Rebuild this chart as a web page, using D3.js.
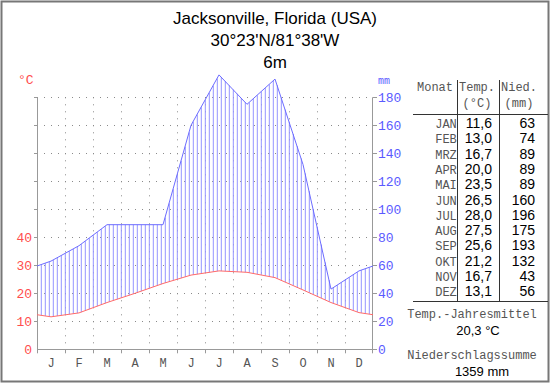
<!DOCTYPE html>
<html>
<head>
<meta charset="utf-8">
<script src="https://cdn.jsdelivr.net/npm/d3@7"></script>
<style>
  body { margin: 0; background: #fff; }
  svg { display: block; }
</style>
</head>
<body>
<div class="graph"></div>
<script>
// Climate data
var months = ["J", "F", "M", "A", "M", "J", "J", "A", "S", "O", "N", "D"];
var monthNames = ["JAN", "FEB", "MRZ", "APR", "MAI", "JUN", "JUL", "AUG", "SEP", "OKT", "NOV", "DEZ"];
var temps = [11.6, 13.0, 16.7, 20.0, 23.5, 26.5, 28.0, 27.5, 25.6, 21.2, 16.7, 13.1];
var precip = [63, 74, 89, 89, 89, 160, 196, 175, 193, 132, 43, 56];
var tempTicks = [0, 10, 20, 30, 40];
var gridSteps = [10, 20, 30, 40, 50, 60, 70, 80, 90];
var precipTicks = [0, 20, 40, 60, 80, 100, 120, 140, 160, 180];
var titleLines = ["Jacksonville, Florida (USA)", "30°23'N/81°38'W", "6m"];
var meanTemp = "20,3 °C";
var totalPrecip = "1359 mm";

// Configuration
var width = 550, height = 384;
var tempColour = "#ff6a6a";
var precipColour = "#6c6cff";
var hatchColour = "#9494ff";
var gridColour = "#8a8a8a";
var mono = "'Liberation Mono', 'DejaVu Sans Mono', monospace";
var sans = "'Liberation Sans', Arial, sans-serif";

var x = d3.scaleLinear().domain([0, 12]).range([37, 373]);
var yT = d3.scaleLinear().domain([0, 90]).range([349.3, 97.3]);
var yP = d3.scaleLinear().domain([0, 180]).range([349.3, 97.3]);

var svg = d3.select('.graph').append("svg")
    .attr("width", width)
    .attr("height", height);

svg.append("rect")
    .attr("x", 1.5).attr("y", 1.5)
    .attr("width", width - 3).attr("height", height - 4)
    .style("fill", "none")
    .style("stroke", "#777")
    .style("stroke-width", 2);

// Title
svg.selectAll(".title")
    .data(titleLines)
    .enter().append("text")
    .attr("x", 275)
    .attr("y", function(d, i) { return 24 + i * 22; })
    .attr("text-anchor", "middle")
    .style("font-family", sans)
    .style("font-size", "17px")
    .style("fill", "#000")
    .text(function(d) { return d; });

// Points: month centres plus edges (mean of Dec and Jan)
var edgeT = (temps[0] + temps[11]) / 2;
var edgeP = (precip[0] + precip[11]) / 2;
var tPts = [[0, edgeT]].concat(temps.map(function(d, i) { return [i + 0.5, d]; }), [[12, edgeT]]);
var pPts = [[0, edgeP]].concat(precip.map(function(d, i) { return [i + 0.5, d]; }), [[12, edgeP]]);

function interp(pts, v) {
    for (var i = 0; i < pts.length - 1; i++) {
        if (v >= pts[i][0] && v <= pts[i + 1][0]) {
            var f = (v - pts[i][0]) / (pts[i + 1][0] - pts[i][0]);
            return pts[i][1] + f * (pts[i + 1][1] - pts[i][1]);
        }
    }
    return pts[pts.length - 1][1];
}

// Grid
var grid = svg.append("g")
    .style("stroke", gridColour)
    .style("stroke-dasharray", "1,6");
grid.selectAll(".hgrid")
    .data(gridSteps)
    .enter().append("line")
    .attr("x1", x(0)).attr("x2", x(12))
    .attr("y1", function(d) { return Math.round(yT(d)) + 0.5; })
    .attr("y2", function(d) { return Math.round(yT(d)) + 0.5; });
grid.selectAll(".vgrid")
    .data(d3.range(1, 12))
    .enter().append("line")
    .attr("x1", function(d) { return Math.round(x(d)) + 0.5; })
    .attr("x2", function(d) { return Math.round(x(d)) + 0.5; })
    .attr("y1", yT(90)).attr("y2", yT(0));

// Hatching (humid period)
var hatchX = d3.range(1, 84).map(function(k) { return k / 7; });
var hatch = svg.append("g").attr("class", "hatch");
hatch.selectAll("line")
    .data(hatchX)
    .enter().append("line")
    .attr("x1", function(d) { return x(d) + 0.3; })
    .attr("x2", function(d) { return x(d) + 0.3; })
    .attr("y1", function(d) { return yT(interp(tPts, d)); })
    .attr("y2", function(d) { return yP(interp(pPts, d)); })
    .style("stroke", hatchColour)
    .style("stroke-width", 1);

// Axes
var axes = svg.append("g").style("stroke", "#999").style("fill", "none");
axes.append("line")
    .attr("x1", 37.5).attr("x2", 37.5)
    .attr("y1", yT(90)).attr("y2", yT(0) + 4);
axes.append("line")
    .attr("x1", 372.5).attr("x2", 372.5)
    .attr("y1", yT(90)).attr("y2", yT(0) + 4);
axes.append("line")
    .attr("x1", 37).attr("x2", 373)
    .attr("y1", Math.round(yT(0)) + 0.5).attr("y2", Math.round(yT(0)) + 0.5);
axes.selectAll(".mtick")
    .data(d3.range(1, 12))
    .enter().append("line")
    .attr("x1", function(d) { return Math.round(x(d)) + 0.5; })
    .attr("x2", function(d) { return Math.round(x(d)) + 0.5; })
    .attr("y1", yT(0)).attr("y2", yT(0) + 4);
axes.selectAll(".ltick")
    .data(gridSteps)
    .enter().append("line")
    .attr("x1", 34).attr("x2", 37)
    .attr("y1", function(d) { return Math.round(yT(d)) + 0.5; })
    .attr("y2", function(d) { return Math.round(yT(d)) + 0.5; });
axes.selectAll(".rtick")
    .data(precipTicks)
    .enter().append("line")
    .attr("x1", 373).attr("x2", 377)
    .attr("y1", function(d) { return Math.round(yP(d)) + 0.5; })
    .attr("y2", function(d) { return Math.round(yP(d)) + 0.5; });

// Curves
var line = d3.line()
    .x(function(d) { return x(d[0]); });
svg.append("path")
    .attr("d", line.y(function(d) { return yP(d[1]); })(pPts))
    .style("fill", "none")
    .style("stroke", precipColour)
    .style("stroke-width", 1);
svg.append("path")
    .attr("d", line.y(function(d) { return yT(d[1]); })(tPts))
    .style("fill", "none")
    .style("stroke", tempColour)
    .style("stroke-width", 1);

// Axis labels
svg.selectAll(".tlabel")
    .data(tempTicks)
    .enter().append("text")
    .attr("x", 32)
    .attr("y", function(d) { return yT(d) + 4.5; })
    .attr("text-anchor", "end")
    .style("font-family", mono)
    .style("font-size", "13px")
    .style("fill", "#ff4d4d")
    .text(function(d) { return d; });
svg.append("text")
    .attr("x", 18).attr("y", 84)
    .style("font-family", mono)
    .style("font-size", "13px")
    .style("fill", "#ff4d4d")
    .text("°C");

svg.selectAll(".plabel")
    .data(precipTicks)
    .enter().append("text")
    .attr("x", 378)
    .attr("y", function(d) { return yP(d) + 4.5; })
    .style("font-family", mono)
    .style("font-size", "13px")
    .style("fill", "#5a5aff")
    .text(function(d) { return d; });
svg.append("text")
    .attr("x", 378).attr("y", 84)
    .style("font-family", mono)
    .style("font-size", "10px")
    .style("fill", "#5a5aff")
    .text("mm");

svg.selectAll(".mlabel")
    .data(months)
    .enter().append("text")
    .attr("x", function(d, i) { return x(i + 0.5); })
    .attr("y", 367)
    .attr("text-anchor", "middle")
    .style("font-family", mono)
    .style("font-size", "12px")
    .style("fill", "#555")
    .text(function(d) { return d; });

// Table
var tbl = svg.append("g");
tbl.append("g").style("stroke", "#333")
    .selectAll("line")
    .data([[457.5, 80, 457.5, 301], [499.5, 80, 499.5, 301], [413, 114.5, 548, 114.5], [413, 301.5, 548, 301.5]])
    .enter().append("line")
    .attr("x1", function(d) { return d[0]; })
    .attr("y1", function(d) { return d[1]; })
    .attr("x2", function(d) { return d[2]; })
    .attr("y2", function(d) { return d[3]; });

var headers = [["Monat", 435, 91], ["Temp.", 477, 91], ["(°C)", 477, 107], ["Nied.", 519, 91], ["(mm)", 519, 107]];
tbl.selectAll(".hdr")
    .data(headers)
    .enter().append("text")
    .attr("x", function(d) { return d[1]; })
    .attr("y", function(d) { return d[2]; })
    .attr("text-anchor", "middle")
    .style("font-family", mono)
    .style("font-size", "12px")
    .style("fill", "#555")
    .text(function(d) { return d[0]; });

function rowY(i) { return 128 + i * 15.3; }

tbl.selectAll(".mname")
    .data(monthNames)
    .enter().append("text")
    .attr("x", 446)
    .attr("y", function(d, i) { return rowY(i); })
    .attr("text-anchor", "middle")
    .style("font-family", mono)
    .style("font-size", "12px")
    .style("fill", "#555")
    .text(function(d) { return d; });
tbl.selectAll(".tval")
    .data(temps)
    .enter().append("text")
    .attr("x", 492)
    .attr("y", function(d, i) { return rowY(i); })
    .attr("text-anchor", "end")
    .style("font-family", sans)
    .style("font-size", "14px")
    .style("fill", "#000")
    .text(function(d) { return d.toFixed(1).replace(".", ","); });
tbl.selectAll(".pval")
    .data(precip)
    .enter().append("text")
    .attr("x", 535)
    .attr("y", function(d, i) { return rowY(i); })
    .attr("text-anchor", "end")
    .style("font-family", sans)
    .style("font-size", "14px")
    .style("fill", "#000")
    .text(function(d) { return d; });

var summary = [["Temp.-Jahresmittel", 472, 318, mono, "12px", "#555"],
               [meanTemp, 478, 335, sans, "13px", "#000"],
               ["Niederschlagssumme", 472, 359, mono, "12px", "#555"],
               [totalPrecip, 482, 375.5, sans, "13px", "#000"]];
tbl.selectAll(".sum")
    .data(summary)
    .enter().append("text")
    .attr("x", function(d) { return d[1]; })
    .attr("y", function(d) { return d[2]; })
    .attr("text-anchor", "middle")
    .style("font-family", function(d) { return d[3]; })
    .style("font-size", function(d) { return d[4]; })
    .style("fill", function(d) { return d[5]; })
    .text(function(d) { return d[0]; });
</script>
</body>
</html>
